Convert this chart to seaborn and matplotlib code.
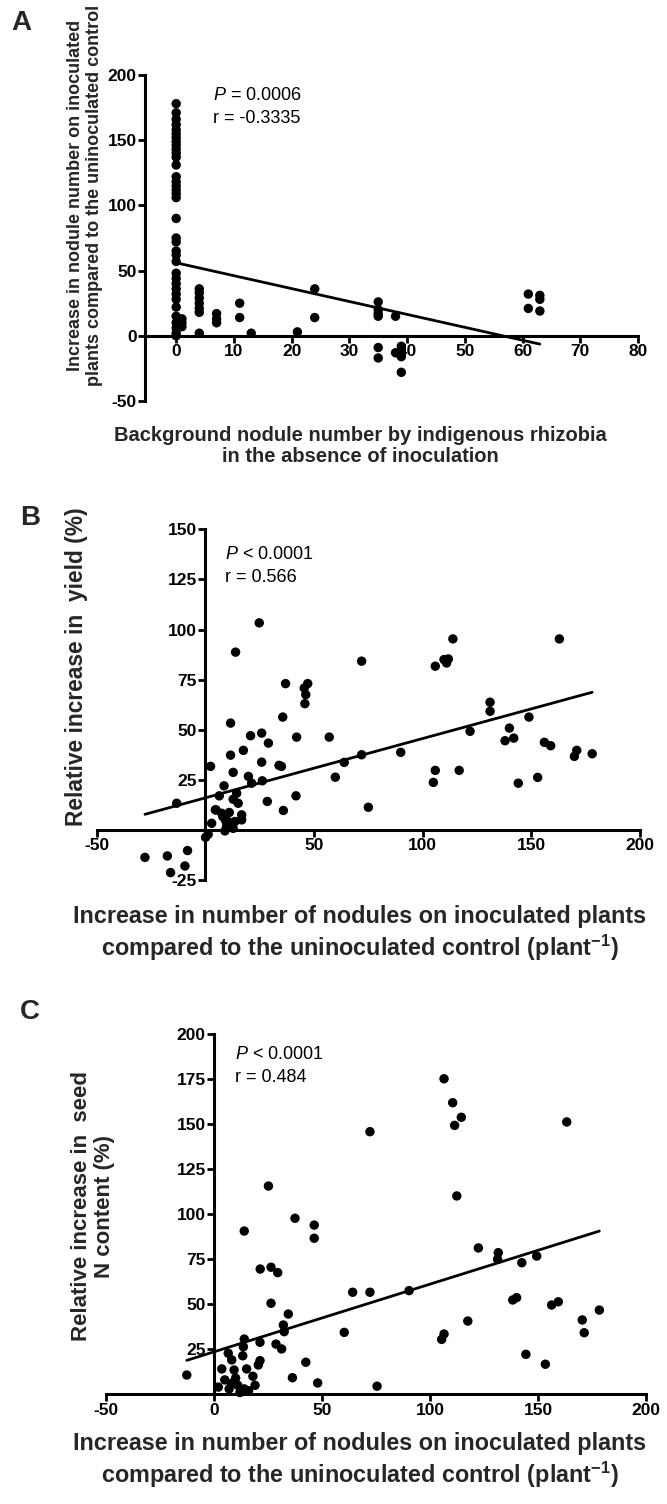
"""Nodulation / yield correlation panels (A, B, C) redrawn with seaborn."""

import matplotlib

matplotlib.use("Agg")
import matplotlib.pyplot as plt
import numpy as np
import seaborn as sns

# ---- panel A: background nodules vs increase in nodule number ----
a_background = [0] * 37 + [1] * 3 + [4] * 7 + [7] * 3 + [11] * 2 + [13, 21, 24, 24] + [35] * 6 + [38] * 2 + [39] * 4 + [61] * 2 + [63] * 3
a_increase = [178, 171, 166, 162, 158, 155, 152, 149, 146, 143, 140, 137, 131, 122, 118, 115, 112, 109, 106,
              90, 75, 72, 65, 62, 57, 48, 44, 40, 36, 32, 28, 22, 15, 10, 6, 2, 0,
              13, 10, 7,
              36, 33, 29, 25, 21, 18, 2,
              17, 13, 10,
              25, 14,
              2, 3, 36, 14,
              26, 20, 17, 15, -9, -17,
              15, -13,
              -8, -11, -16, -28,
              32, 21,
              31, 28, 19]
a_fit = (56.0, -0.99)  # intercept, slope
a_stats = ("0.0006", "-0.3335")

# ---- panel B: increase in nodules vs relative yield increase ----
b_nodules = [-27.8, -17.5, -8.2, -16, -9.4, -13.2, 2.4, 2.9, 0.1, 1.3, 4.6, 6.4, 8.6, 8, 9.5, 9, 11.6, 11.6, 12.8,
             13.9, 17.5, 20.8, 19.8, 21.3, 24.8, 25.9, 25.9, 26.2, 29, 28.5, 33.9, 35, 35.6, 36.9, 35.9, 42, 41.7,
             45.5, 47.1, 46.2, 45.8, 57, 59.8, 63.9, 71.9, 71.9, 75, 89.9, 105.8, 109.8, 111.8, 111, 113.9, 105.8,
             104.9, 116.8, 121.8, 131, 131, 137.9, 139.9, 141.9, 144, 148.9, 152.9, 156, 158.9, 162.9, 169.8, 170.9,
             178, 14.4, 12.8, 15.1, 4.9, 7.5, 16.7, 16.7, 9, 10.5, 12.1, 12.8, 11, 9.8, 13.6]
b_yield = [-13.7, -13, -10.3, -21.3, -18, 13.3, 31.7, 3.3, -3.7, -2.2, 10, 17, 22, 6.7, 4.2, -0.5, 53.3, 37.3, 28.7,
           88.7, 39.7, 47, 26.7, 23.3, 103.3, 48.3, 33.8, 24.5, 43.3, 14.2, 32.2, 31.7, 56.3, 73, 9.7, 46.3, 17,
           70.8, 73, 67.5, 63, 46.3, 26.3, 33.7, 84.2, 37.5, 11.3, 38.7, 81.7, 85, 85.3, 83.3, 95.3, 29.7,
           23.7, 29.7, 49.2, 63.7, 59.2, 44.5, 50.8, 45.8, 23.3, 56.3, 26.2, 43.7, 42, 95.3, 36.7, 39.7,
           38, 18.3, 15.3, 13.3, 10, 8.3, 7.5, 5, 5.8, 4.2, 2.5, 0.8, 8.7, 1.7, 4.2]
b_fit = (16.0, 0.296)
b_stats = ("0.0001", "0.566")

# ---- panel C: increase in nodules vs relative seed N increase ----
c_nodules = [72.2, 112.4, 122.4, 131.6, 131.3, 142.5, 149.4, 64.2, 72.2, 90.3, 138.3, 140.1, 156.3, 159.4, 178.4,
             170.5, 171.4, 117.5, 106.5, 105.4, 60.3, 144.4, 153.4, 75.5, 106.5, 110.5, 114.5, 111.4, 163.3, 25.2,
             14, 37.5, 46.4, 46.4, 21.4, 26.4, 29.5, 26.4, 34.4, 32.1, 32.5, 21.3, 14, 13.6, 28.7, 31.3, 42.5,
             21.3, 20.5, 13.3, 6.6, 8.2, 9.3, 3.6, 15.1, -12.6, 36.3, 48, 2, 5, 7, 8, 10, 11, 12, 14, 16, 18, 19]
c_seed_n = [145.9, 110.2, 81.3, 78.7, 75, 73.1, 76.8, 56.7, 56.7, 57.6, 52.4, 53.7, 49.6, 51.4, 46.8,
            41.3, 34.2, 40.7, 33.5, 30.5, 34.4, 22.2, 16.7, 4.5, 175.3, 162, 153.9, 149.4, 151.3, 115.7,
            90.7, 97.8, 94, 86.7, 69.6, 70.6, 67.6, 50.6, 44.6, 38.5, 34.8, 28.9, 30.7, 26.4, 27.9, 25.2, 17.8,
            18.7, 16.3, 21.4, 22.8, 19.1, 13.5, 14.1, 14.1, 10.7, 9.2, 6.3, 4, 8, 3, 6, 9, 5, 1, 3, 2, 10, 5]
c_fit = (23.6, 0.376)
c_stats = ("0.0001", "0.484")

W, H = 667, 1504
FONT = ["Liberation Sans", "DejaVu Sans"]

sns.set_theme(style="ticks")
plt.rcParams["font.family"] = FONT
plt.rcParams["mathtext.fontset"] = "custom"
plt.rcParams["mathtext.rm"] = "Liberation Sans"
plt.rcParams["mathtext.it"] = "Liberation Sans:italic"
plt.rcParams["mathtext.bf"] = "Liberation Sans:bold"


def px_axes(fig, left, top, right, bottom):
    return fig.add_axes([left / W, 1 - bottom / H, (right - left) / W, (bottom - top) / H])


def draw_panel(ax, x, y, fit, xlim, ylim, xticks, yticks, x_at_zero=False, y_at_zero=False):
    sns.scatterplot(x=x, y=y, ax=ax, color="black", s=46, edgecolor="none", linewidth=0, zorder=3, clip_on=False)
    xs = np.array([min(x), max(x)])
    sns.lineplot(x=xs, y=fit[0] + fit[1] * xs, ax=ax, color="black", lw=2.0, zorder=4)
    ax.set_xlim(*xlim)
    ax.set_ylim(*ylim)
    ax.set_facecolor("none")
    for side in ("top", "right"):
        ax.spines[side].set_visible(False)
    # spine positioning resets tick labels, so do it before styling them
    if x_at_zero:
        ax.spines["bottom"].set_position(("data", 0))
    if y_at_zero:
        ax.spines["left"].set_position(("data", 0))
    for side in ("left", "bottom"):
        ax.spines[side].set_linewidth(2.2)
        ax.spines[side].set_color("black")
    ax.set_xticks(xticks, [f"{t:g}" for t in xticks], fontweight="bold")
    ax.set_yticks(yticks, [f"{t:g}" for t in yticks], fontweight="bold")
    ax.tick_params(direction="out", length=5, width=2.0, pad=1, labelsize=12.5, colors="black")
    ax.set_xlabel("")
    ax.set_ylabel("")


def stats_text(fig, left, top, sign, p, r):
    fig.text(left / W, 1 - top / H, r"$\it{P}$" + f" {sign} {p}", fontsize=13, ha="left", va="center", color="black")
    fig.text(left / W, 1 - (top + 22.5) / H, f"r = {r}", fontsize=13, ha="left", va="center", color="black")


fig = plt.figure(figsize=(W / 100, H / 100), dpi=100)
fig.patch.set_facecolor("white")

xlab_bc = "Increase in number of nodules on inoculated plants\ncompared to the uninoculated control (plant$^{\\mathbf{-1}}$)"

# panel A
ax_a = px_axes(fig, 145, 75, 638, 401)
draw_panel(ax_a, a_background, a_increase, a_fit, (-5.4, 80), (-50, 200),
           list(range(0, 81, 10)), [-50, 0, 50, 100, 150, 200], x_at_zero=True)
stats_text(fig, 213, 96, "=", *a_stats)
fig.text(21 / W, 1 - 23 / H, "A", fontsize=20, fontweight="bold", ha="center", va="center")
fig.text(85 / W, 1 - 195 / H, "Increase in nodule number on inoculated\nplants compared to the uninoculated control",
         rotation=90, fontsize=13, fontweight="bold", ha="center", va="center", multialignment="center",
         linespacing=1.2)
fig.text(360 / W, 1 - 446 / H, "Background nodule number by indigenous rhizobia\nin the absence of inoculation",
         fontsize=14.5, fontweight="bold", ha="center", va="center", multialignment="center", linespacing=1.1)

# panel B
ax_b = px_axes(fig, 96.7, 529.3, 640, 880)
draw_panel(ax_b, b_nodules, b_yield, b_fit, (-50, 200), (-25, 150),
           [-50, 50, 100, 150, 200], [-25, 25, 50, 75, 100, 125, 150], x_at_zero=True, y_at_zero=True)
stats_text(fig, 225, 554.5, "<", *b_stats)
fig.text(30 / W, 1 - 518 / H, "B", fontsize=20, fontweight="bold", ha="center", va="center")
fig.text(77 / W, 1 - 667 / H, "Relative increase in  yield (%)", rotation=90,
         fontsize=16.4, fontweight="bold", ha="center", va="center")
fig.text(360 / W, 1 - 934 / H, xlab_bc,
         fontsize=16.8, fontweight="bold", ha="center", va="center", multialignment="center", linespacing=1.2)

# panel C
ax_c = px_axes(fig, 106, 1034.3, 646, 1394.3)
draw_panel(ax_c, c_nodules, c_seed_n, c_fit, (-50, 200), (0, 200),
           [-50, 0, 50, 100, 150, 200], [25, 50, 75, 100, 125, 150, 175, 200], y_at_zero=True)
stats_text(fig, 235, 1054.5, "<", *c_stats)
fig.text(30 / W, 1 - 1012 / H, "C", fontsize=20, fontweight="bold", ha="center", va="center")
fig.text(93 / W, 1 - 1206 / H, "Relative increase in  seed\nN content (%)", rotation=90,
         fontsize=16, fontweight="bold", ha="center", va="center", multialignment="center", linespacing=1.1)
fig.text(360 / W, 1 - 1461 / H, xlab_bc,
         fontsize=16.8, fontweight="bold", ha="center", va="center", multialignment="center", linespacing=1.25)

fig.savefig("out.png", dpi=100, facecolor="white")
